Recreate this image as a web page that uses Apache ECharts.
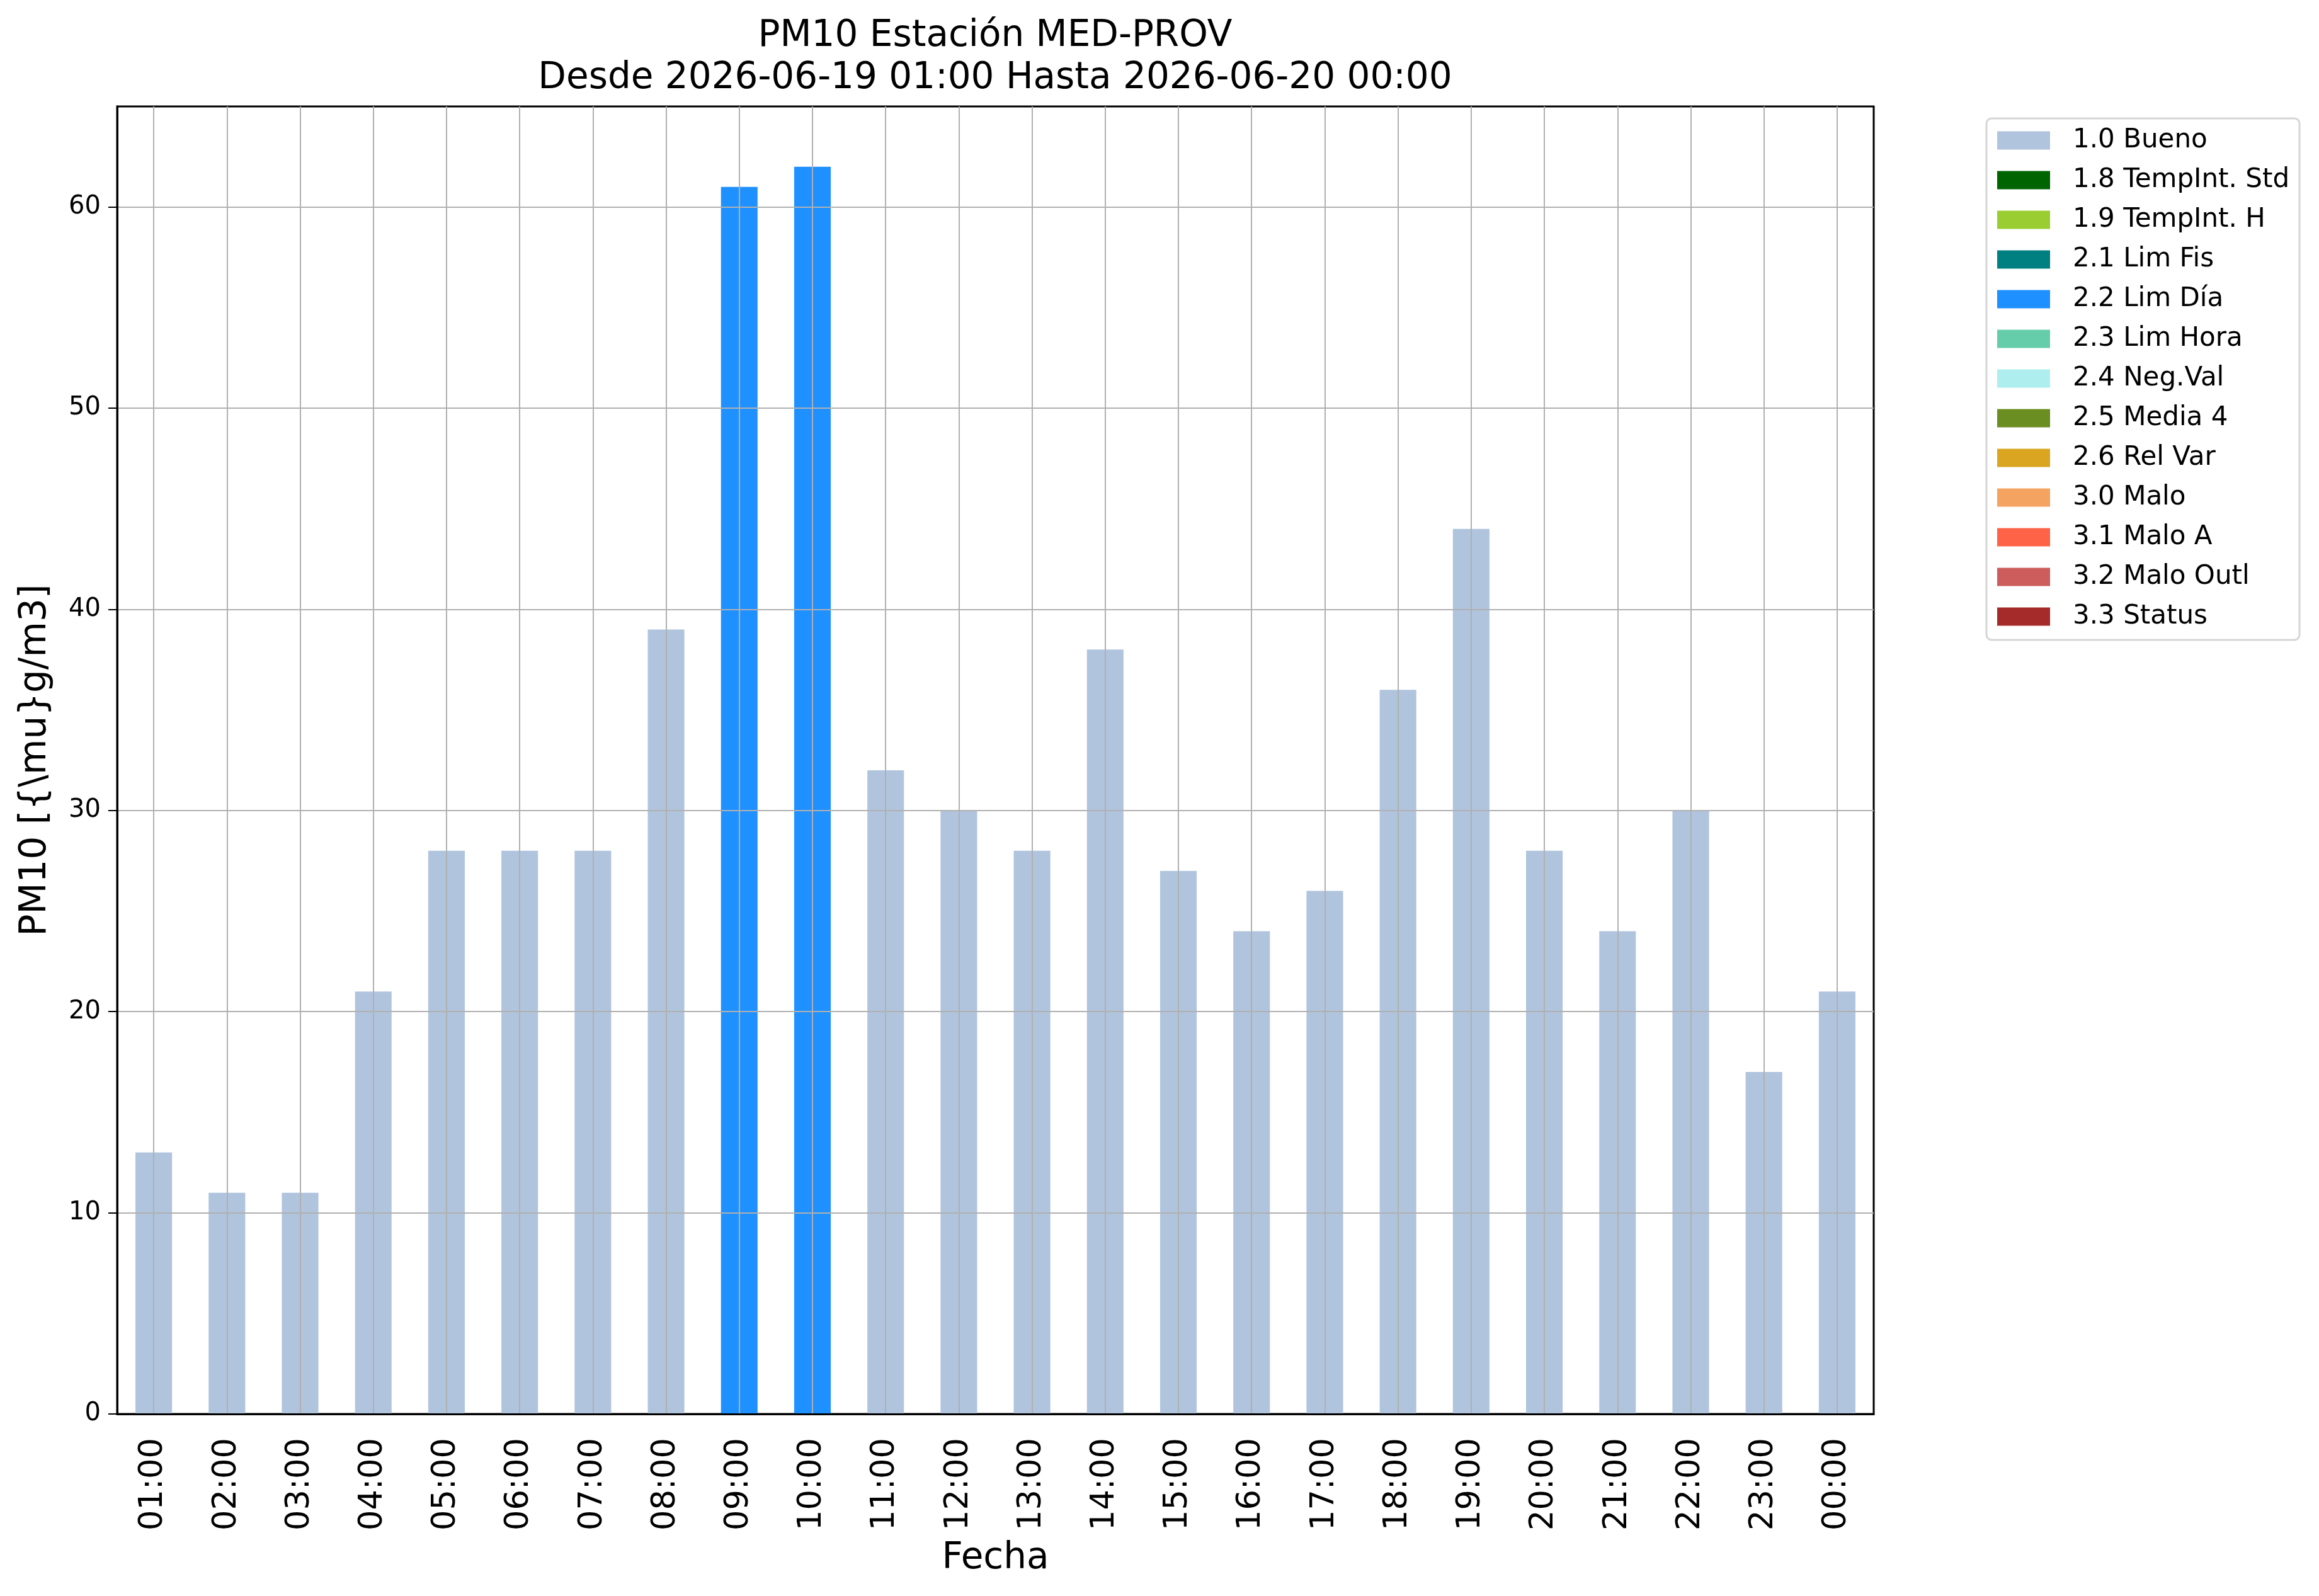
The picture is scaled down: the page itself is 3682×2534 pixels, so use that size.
<!DOCTYPE html>
<html>
<head>
<meta charset="utf-8">
<script src="https://cdn.jsdelivr.net/npm/echarts@6/dist/echarts.min.js"></script>
<style>
  html, body { margin: 0; padding: 0; background: #fff; }
  #chart { width: 3682px; height: 2534px; }
</style>
</head>
<body>
<div id="chart"></div>
<script>
// horas y valores
var horas = ['01:00','02:00','03:00','04:00','05:00','06:00','07:00','08:00','09:00','10:00','11:00','12:00',
             '13:00','14:00','15:00','16:00','17:00','18:00','19:00','20:00','21:00','22:00','23:00','00:00'];
var bueno  = [13, 11, 11, 21, 28, 28, 28, 39, null, null, 32, 30, 28, 38, 27, 24, 26, 36, 44, 28, 24, 30, 17, 21];
var limDia = [null, null, null, null, null, null, null, null, 61, 62, null, null, null, null, null, null, null, null, null, null, null, null, null, null];
var yTicks = [0, 10, 20, 30, 40, 50, 60];

var flags  = ['1.0 Bueno','1.8 TempInt. Std','1.9 TempInt. H','2.1 Lim Fis','2.2 Lim Día','2.3 Lim Hora',
              '2.4 Neg.Val','2.5 Media 4','2.6 Rel Var','3.0 Malo','3.1 Malo A','3.2 Malo Outl','3.3 Status'];
var colores = ['#b0c4de','#006400','#9acd32','#008080','#1e90ff','#66cdaa',
               '#afeeee','#6b8e23','#daa520','#f4a460','#ff6347','#cd5c5c','#a52a2a'];
var vacio = horas.map(function(){ return null; });

var font = 'DejaVu Sans';
var chart = echarts.init(document.getElementById('chart'));

var series = flags.map(function(f, i){
  var d = vacio;
  if (i === 0) d = bueno;
  if (i === 4) d = limDia;
  return {
    name: f,
    type: 'bar',
    stack: 'flag',
    barWidth: '50%',
    data: d,
    itemStyle: { color: colores[i] },
    animation: false
  };
});

chart.setOption({
  backgroundColor: '#ffffff',
  animation: false,
  title: {
    text: 'PM10 Estación MED-PROV\nDesde 2026-06-19 01:00 Hasta 2026-06-20 00:00',
    left: 1580,
    top: 24,
    textAlign: 'center',
    padding: 0,
    textStyle: { fontFamily: font, fontSize: 58, fontWeight: 'normal', color: '#000', lineHeight: 67 }
  },
  grid: {
    left: 186, right: 707, top: 169, bottom: 289,
    show: true, borderColor: '#000', borderWidth: 3, backgroundColor: 'transparent'
  },
  legend: {
    orient: 'vertical',
    left: 3154, top: 188,
    padding: [14, 16, 16, 17],
    itemWidth: 84, itemHeight: 29, itemGap: 21,
    icon: 'rect',
    backgroundColor: '#fff',
    borderColor: '#d6d6d6', borderWidth: 3, borderRadius: 8,
    textStyle: { fontFamily: font, fontSize: 42, lineHeight: 40, color: '#000', padding: [0, 0, 0, 31] },
    data: flags
  },
  xAxis: {
    type: 'category',
    data: horas,
    z: 10,
    name: 'Fecha',
    nameLocation: 'middle',
    nameGap: 201,
    nameTextStyle: { fontFamily: font, fontSize: 58, color: '#000' },
    axisLine: { lineStyle: { color: '#000', width: 3 } },
    axisTick: { alignWithLabel: true, length: 15, lineStyle: { color: '#000', width: 2 } },
    axisLabel: { rotate: 90, margin: 38, fontFamily: font, fontSize: 51, color: '#000', interval: 0 },
    splitLine: { show: true, alignWithLabel: true, lineStyle: { color: '#b0b0b0', width: 2 } }
  },
  yAxis: {
    type: 'value',
    min: 0, max: 65, interval: 10,
    z: 10,
    name: 'PM10 [{\\mu}g/m3]',
    nameLocation: 'middle',
    nameGap: 100,
    nameTextStyle: { fontFamily: font, fontSize: 58, color: '#000' },
    axisLine: { show: true, lineStyle: { color: '#000', width: 3 } },
    axisTick: { show: true, length: 14, customValues: yTicks, lineStyle: { color: '#000', width: 2 } },
    axisLabel: { margin: 26, fontFamily: font, fontSize: 40, color: '#000', customValues: yTicks },
    splitLine: { show: true, lineStyle: { color: '#b0b0b0', width: 2 } }
  },
  series: series
});
</script>
</body>
</html>
